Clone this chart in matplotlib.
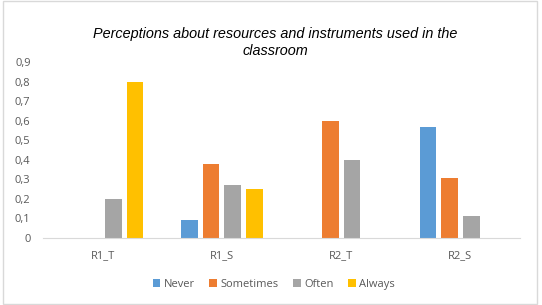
import matplotlib
matplotlib.use("Agg")
import matplotlib.pyplot as plt
import numpy as np

# data
categories = ["R1_T", "R1_S", "R2_T", "R2_S"]
never = [0, 0.09, 0, 0.57]
sometimes = [0, 0.38, 0.60, 0.305]
often = [0.20, 0.27, 0.40, 0.115]
always = [0.80, 0.25, 0, 0]
series_names = ["Never", "Sometimes", "Often", "Always"]
colors = ["#5B9BD5", "#ED7D31", "#A5A5A5", "#FFC000"]

plt.rcParams['font.family'] = ['Open Sans', 'DejaVu Sans']

fig = plt.figure(figsize=(5.42, 3.05), dpi=100)
ax = fig.add_axes([43/542, 1-238/305, (520-43)/542, (238-62)/305])

x = np.arange(len(categories))
width = 0.14
step = 0.181
for i, (vals, name, c) in enumerate(zip([never, sometimes, often, always], series_names, colors)):
    ax.bar(x + (i - 1.5)*step, vals, width, color=c, label=name)

ax.set_xlim(-0.5, 3.5)
ax.set_ylim(0, 0.9)
ax.set_yticks(np.arange(0, 0.91, 0.1))
ax.set_yticklabels(["0"] + ["0,%d" % k for k in range(1, 10)])
ax.set_xticks(x)
ax.set_xticklabels(categories)
ax.tick_params(axis='both', length=0, labelsize=8, labelcolor="#595959")
ax.tick_params(axis='x', pad=9)
ax.tick_params(axis='y', pad=9)
for s in ["top", "right", "left"]:
    ax.spines[s].set_visible(False)
ax.spines["bottom"].set_color("#D9D9D9")

fig.text(0.508, 0.81, "Perceptions about resources and instruments used in the\nclassroom",
         ha="center", va="bottom", fontsize=10.4, style="italic",
         family="Liberation Sans", linespacing=1.3)

fig.legend(loc="center", bbox_to_anchor=(0.505, 0.068), ncol=4, frameon=False,
           fontsize=8, handlelength=0.7, handleheight=0.7, handletextpad=0.3,
           columnspacing=1.3, labelcolor="#595959")

# thin border round the figure
fig.patches.append(plt.Rectangle((0.006, 0.003), 0.984, 0.994, transform=fig.transFigure,
                                 fill=False, edgecolor="#D9D9D9", linewidth=1))

fig.savefig("out.png", dpi=100)
